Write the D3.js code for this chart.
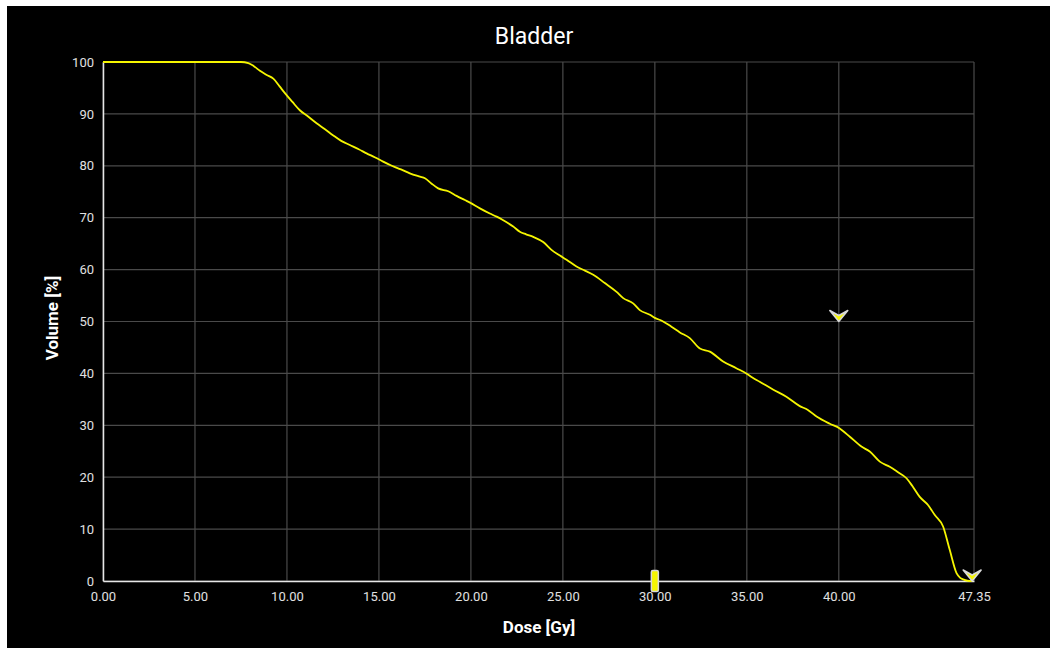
<!DOCTYPE html>
<html>
<head>
<meta charset="utf-8">
<script src="https://cdn.jsdelivr.net/npm/d3@7"></script>
<style>
  html, body { margin: 0; padding: 0; background: #fff; }
  svg { display: block; font-family: Roboto, "Noto Sans", sans-serif; }
</style>
</head>
<body>
<div id="graph"></div>
<script>
let width = 1050;
let height = 648;

// DVH curve
let dose = [0, 7.5, 7.9, 8.2, 8.53, 8.9, 9.26, 9.6, 9.89, 10.3, 10.7, 11.15, 11.61, 12.05, 12.5, 12.95,
  13.42, 13.9, 14.33, 14.8, 15.23, 15.7, 16.2, 16.68, 17.23, 17.5, 17.85, 18.22, 18.77, 19.22, 19.67,
  19.95, 20.49, 21.03, 21.4, 21.76, 22.3, 22.66, 23.0, 23.39, 23.93, 24.38, 24.84, 25.2, 25.74, 26.2,
  26.65, 27.28, 27.92, 28.28, 28.82, 29.18, 29.73, 30.0, 30.4, 30.9, 31.36, 31.9, 32.45, 32.99, 33.71,
  34.43, 34.97, 35.3, 35.7, 36.42, 37.15, 37.88, 38.3, 38.79, 39.51, 40.05, 40.6, 41.23, 41.7, 42.23,
  42.77, 43.2, 43.68, 44.0, 44.4, 44.86, 45.22, 45.67, 46.03, 46.4, 46.6, 46.76, 47.0, 47.25];
let volume = [100, 100, 99.8, 99.2, 98.3, 97.5, 96.8, 95.3, 94, 92.3, 90.7, 89.5, 88.2, 87.1, 85.9, 84.8,
  84, 83.2, 82.4, 81.6, 80.8, 80, 79.3, 78.55, 77.9, 77.6, 76.6, 75.65, 75.1, 74.2, 73.4,
  72.9, 71.8, 70.8, 70.2, 69.5, 68.3, 67.3, 66.8, 66.3, 65.3, 63.8, 62.7, 61.9, 60.6, 59.8,
  59, 57.4, 55.7, 54.5, 53.5, 52.2, 51.3, 50.7, 50.1, 49, 47.9, 46.8, 44.8, 44.2, 42.3,
  41, 40, 39.2, 38.4, 36.9, 35.5, 33.7, 33, 31.7, 30.3, 29.4, 27.8, 25.9, 24.9, 23,
  22, 21, 19.8, 18.3, 16.2, 14.6, 12.7, 10.5, 6, 1.5, 0.6, 0.3, 0.05, 0];

// constraint markers
let arrowDose = [40, 47.25];
let arrowVol = [50, 0];
let barDose = [30];

let xTicks = [0, 5, 10, 15, 20, 25, 30, 35, 40, 47.35];
let yTicks = [0, 10, 20, 30, 40, 50, 60, 70, 80, 90, 100];

let margin = {top: 62, right: 76, bottom: 67, left: 103};

let svg = d3.select('#graph')
  .append('svg')
  .attr('width', width)
  .attr('height', height);

svg.append('rect')
  .attr('x', 7).attr('y', 6)
  .attr('width', width - 7).attr('height', height - 6)
  .attr('fill', '#000');

let x = d3.scaleLinear().domain([0, 47.35]).range([margin.left, width - margin.right]);
let y = d3.scaleLinear().domain([0, 100]).range([height - margin.bottom, margin.top]);

// grid
svg.append('g')
  .selectAll('line')
  .data(xTicks)
  .enter()
  .append('line')
  .attr('x1', d => x(d)).attr('x2', d => x(d))
  .attr('y1', y(0)).attr('y2', y(100))
  .attr('stroke', '#4a4a4a').attr('stroke-width', 1.2);

svg.append('g')
  .selectAll('line')
  .data(yTicks)
  .enter()
  .append('line')
  .attr('x1', x(0)).attr('x2', x(47.35))
  .attr('y1', d => y(d)).attr('y2', d => y(d))
  .attr('stroke', '#4a4a4a').attr('stroke-width', 1.2);

// axes
let xAxis = svg.append('g')
  .attr('transform', 'translate(0,' + y(0) + ')')
  .call(d3.axisBottom(x).tickValues(xTicks).tickSize(0).tickPadding(11).tickFormat(d3.format('.2f')));
let yAxis = svg.append('g')
  .attr('transform', 'translate(' + x(0) + ',0)')
  .call(d3.axisLeft(y).tickValues(yTicks).tickSize(0).tickPadding(9).tickFormat(d3.format('d')));

[xAxis, yAxis].forEach(a => {
  a.select('.domain').attr('stroke', '#e6e6e6').attr('stroke-width', 1.5);
  a.selectAll('text').attr('fill', '#e0e0e0').attr('font-size', 13).attr('font-family', 'Roboto');
});

// title and labels
svg.append('text')
  .attr('x', 534).attr('y', 44)
  .attr('text-anchor', 'middle')
  .attr('fill', '#fff')
  .attr('font-size', 23)
  .text('Bladder');

svg.append('text')
  .attr('x', 539).attr('y', 633)
  .attr('text-anchor', 'middle')
  .attr('fill', '#fff')
  .attr('font-size', 17)
  .attr('font-weight', 700)
  .text('Dose [Gy]');

svg.append('text')
  .attr('transform', 'translate(58,' + 318 + ') rotate(-90)')
  .attr('text-anchor', 'middle')
  .attr('fill', '#fff')
  .attr('font-size', 17)
  .attr('font-weight', 700)
  .text('Volume [%]');

// curve
let line = d3.line()
  .x((d, i) => x(dose[i]))
  .y((d, i) => y(volume[i]))
  .curve(d3.curveMonotoneX);

svg.append('path')
  .datum(volume)
  .attr('d', line)
  .attr('fill', 'none')
  .attr('stroke', '#f5f500')
  .attr('stroke-width', 1.8);

// markers
svg.append('g')
  .selectAll('path')
  .data(arrowDose)
  .enter()
  .append('path')
  .attr('transform', (d, i) => 'translate(' + x(d) + ',' + y(arrowVol[i]) + ')')
  .attr('d', 'M0,0 L-9,-11 L0,-6 L9,-11 Z')
  .attr('fill', '#f5f500')
  .attr('stroke', '#d8d8d8')
  .attr('stroke-width', 1.5)
  .attr('stroke-linejoin', 'round');

svg.append('g')
  .selectAll('rect')
  .data(barDose)
  .enter()
  .append('rect')
  .attr('x', d => x(d) - 3.5)
  .attr('y', y(0) - 10.5)
  .attr('width', 7).attr('height', 21)
  .attr('rx', 1.5)
  .attr('fill', '#f5f500')
  .attr('stroke', '#d8d8d8')
  .attr('stroke-width', 1.5);
</script>
</body>
</html>
